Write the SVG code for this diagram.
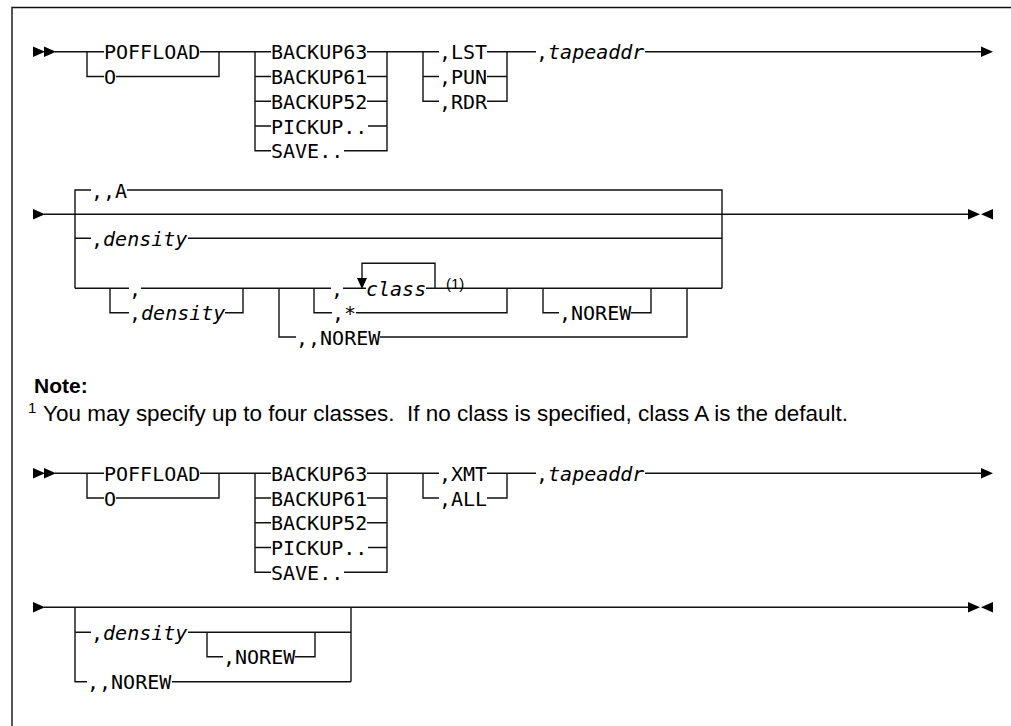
<svg xmlns="http://www.w3.org/2000/svg" width="1011" height="726" viewBox="0 0 1011 726">
<style>
.k{font-family:"DejaVu Sans Mono","Liberation Mono",monospace;font-size:20px;fill:#000}
.v{font-style:italic}
.ln{fill:none;stroke:#111;stroke-width:1.4}
.ah{fill:#000}
.nb{font-family:"Liberation Sans",Arial,sans-serif;font-weight:bold;font-size:21px;fill:#000}
.nt{font-family:"Liberation Sans",Arial,sans-serif;font-size:22px;fill:#000}
.sup{font-family:"Liberation Sans",Arial,sans-serif;font-size:15px;fill:#000}
</style>
<defs>
<path id="tr" d="M0,-5.2 L12,0 L0,5.2 Z"/>
<path id="tl" d="M12,-5.2 L0,0 L12,5.2 Z"/>
</defs>
<rect width="1011" height="726" fill="#fff"/>
<path class="ln" d="M12,726 V7.5 H1011" stroke-width="1.6"/>

<g id="connectors">
<path class="ln" d="M55,51.7 H104 M200,51.7 H271 M87,51.7 V76.5 H104 M116,76.5 H219 V51.7
M255,51.7 V150.7 H271 M255,76.5 H271 M255,101.2 H271 M255,126 H271
M367,51.7 H439 M367,76.5 H387 M367,101.2 H387 M368,126 H387 M344,150.7 H387 V51.7
M423,51.7 V101.2 H439 M423,76.5 H439
M487,51.7 H536 M487,76.5 H507 M487,101.2 H507 V51.7
M645,51.7 H981"/>
<path class="ln" d="M44,214.3 H969
M75,288.3 V190 H91 M75,238.3 H91
M127,190 H722 V288.3 M188,238.3 H722
M75,288.3 H129 M141,288.3 H331
M110,288.3 V312.7 H129 M225,312.7 H243 V288.3
M343,288.3 H366 M426,288.3 H722
M435,288.3 V263.3 H362 V279
M279,288.3 V337 H296
M314,288.3 V312.7 H332 M356,312.7 H507 V288.3
M380,337 H687 V288.3
M543,288.3 V312.7 H559 M631,312.7 H651 V288.3"/>
<path class="ah" d="M357,278 L367,278 L362,289 Z"/>
<path class="ln" d="M55,473.3 H104 M200,473.3 H271 M87,473.3 V498 H104 M116,498 H219 V473.3
M255,473.3 V572.3 H271 M255,498 H271 M255,522.8 H271 M255,547.5 H271
M367,473.3 H439 M367,498 H387 M367,522.8 H387 M368,547.5 H387 M344,572.3 H387 V473.3
M423,473.3 V498 H439
M487,473.3 H536 M487,498 H507 V473.3
M645,473.3 H981"/>
<path class="ln" d="M44,607.3 H969
M75,607.3 V681.7 H87 M75,632.3 H91
M188,632.3 H351
M207,632.3 V656.7 H223 M295,656.7 H315 V632.3
M351,607.3 V681.7 M172,681.7 H351"/>
<use href="#tr" x="33" y="51.7"/><use href="#tr" x="44" y="51.7"/>
<use href="#tr" x="981" y="51.7"/>
<use href="#tr" x="33" y="214.3"/>
<use href="#tr" x="968" y="214.3"/><use href="#tl" x="981" y="214.3"/>
<use href="#tr" x="33" y="473.3"/><use href="#tr" x="44" y="473.3"/>
<use href="#tr" x="981" y="473.3"/>
<use href="#tr" x="33" y="607.3"/>
<use href="#tr" x="968" y="607.3"/><use href="#tl" x="981" y="607.3"/>
</g>

<g id="n-poffload1"><text class="k" x="104" y="59.2">POFFLOAD</text></g>
<g id="n-o1"><text class="k" x="104" y="84">O</text></g>
<g id="n-backup63-1"><text class="k" x="271" y="59.2">BACKUP63</text></g>
<g id="n-backup61-1"><text class="k" x="271" y="84">BACKUP61</text></g>
<g id="n-backup52-1"><text class="k" x="271" y="108.7">BACKUP52</text></g>
<g id="n-pickup1"><text class="k" x="271" y="133.5">PICKUP..</text></g>
<g id="n-save1"><text class="k" x="271" y="158.2">SAVE..</text></g>
<g id="n-lst"><text class="k" x="439" y="59.2">,LST</text></g>
<g id="n-pun"><text class="k" x="439" y="84">,PUN</text></g>
<g id="n-rdr"><text class="k" x="439" y="108.7">,RDR</text></g>
<g id="n-tapeaddr1"><text class="k" x="536" y="59.2">,<tspan class="v">tapeaddr</tspan></text></g>

<g id="n-a"><text class="k" x="91" y="197.5">,,A</text></g>
<g id="n-density1"><text class="k" x="91" y="245.8">,<tspan class="v">density</tspan></text></g>
<g id="n-comma"><text class="k" x="129" y="295.8">,</text></g>
<g id="n-density2"><text class="k" x="129" y="320.2">,<tspan class="v">density</tspan></text></g>
<g id="n-class"><text class="k" x="331" y="295.8">,</text><text class="k v" x="366" y="295.8">class</text><text class="sup" x="446" y="288.5">(1)</text></g>
<g id="n-star"><text class="k" x="332" y="320.2">,*</text></g>
<g id="n-norew1"><text class="k" x="296" y="344.5">,,NOREW</text></g>
<g id="n-norew2"><text class="k" x="559" y="320.2">,NOREW</text></g>

<g id="note">
<text class="nb" x="34" y="393">Note:</text>
<text class="sup" x="28" y="413" font-size="13">1</text>
<text class="nt" x="43" y="421" xml:space="preserve" textLength="805" lengthAdjust="spacingAndGlyphs">You may specify up to four classes.  If no class is specified, class A is the default.</text>
</g>

<g id="n-poffload2"><text class="k" x="104" y="480.8">POFFLOAD</text></g>
<g id="n-o2"><text class="k" x="104" y="505.5">O</text></g>
<g id="n-backup63-2"><text class="k" x="271" y="480.8">BACKUP63</text></g>
<g id="n-backup61-2"><text class="k" x="271" y="505.5">BACKUP61</text></g>
<g id="n-backup52-2"><text class="k" x="271" y="530.3">BACKUP52</text></g>
<g id="n-pickup2"><text class="k" x="271" y="555">PICKUP..</text></g>
<g id="n-save2"><text class="k" x="271" y="579.8">SAVE..</text></g>
<g id="n-xmt"><text class="k" x="439" y="480.8">,XMT</text></g>
<g id="n-all"><text class="k" x="439" y="505.5">,ALL</text></g>
<g id="n-tapeaddr2"><text class="k" x="536" y="480.8">,<tspan class="v">tapeaddr</tspan></text></g>

<g id="n-density3"><text class="k" x="91" y="639.8">,<tspan class="v">density</tspan></text></g>
<g id="n-norew3"><text class="k" x="223" y="664.2">,NOREW</text></g>
<g id="n-norew4"><text class="k" x="87" y="689.2">,,NOREW</text></g>
</svg>
